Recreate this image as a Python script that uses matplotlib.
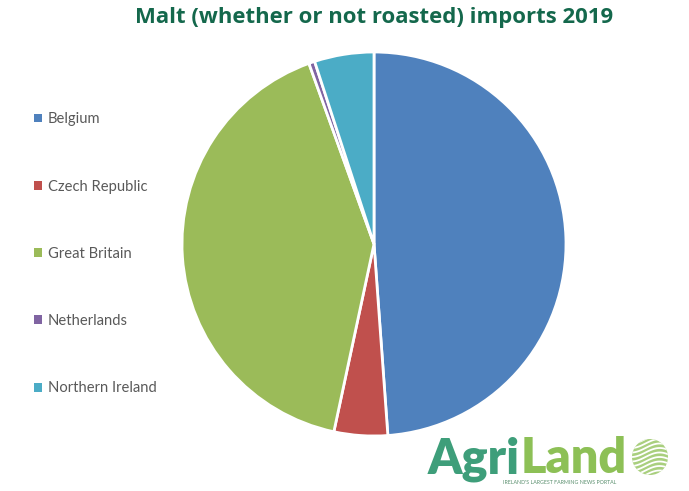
import matplotlib.pyplot as plt
from matplotlib.patches import Circle, Patch
import numpy as np

countries = ["Belgium", "Czech Republic", "Great Britain", "Netherlands", "Northern Ireland"]
shares = [48.8, 4.5, 41.1, 0.5, 5.0]
colors = ["#4F81BD", "#C0504D", "#9BBB59", "#8064A2", "#4BACC6"]
title = "Malt (whether or not roasted) imports 2019"

W, H = 689, 491
fig = plt.figure(figsize=(W / 100, H / 100), dpi=100)
fig.patch.set_facecolor("white")

cx, cy, r = 374, 244, 192
ax = fig.add_axes([(cx - r) / W, (H - cy - r) / H, 2 * r / W, 2 * r / H])
ax.pie(shares, colors=colors, startangle=90, counterclock=False, radius=1,
       wedgeprops=dict(edgecolor="white", linewidth=2))
ax.set_xlim(-1.0, 1.0)
ax.set_ylim(-1.0, 1.0)
ax.set_aspect("equal")
ax.axis("off")

fig.text(374 / W, 1 - 18 / H, title, ha="center", va="center",
         fontsize=15.9, fontweight="bold", color="#14684C", family="Open Sans")

handles = [Patch(facecolor=c, edgecolor="none") for c in colors]
leg = fig.legend(handles, countries, loc="upper left",
                 bbox_to_anchor=(21 / W, 1 - 99 / H), frameon=False,
                 labelspacing=3.62, handlelength=0.55,
                 handleheight=0.55, handletextpad=0.35,
                 prop=dict(family="Lato", size=10.6))
for t in leg.get_texts():
    t.set_color("#595959")

# AgriLand watermark
fig.canvas.draw()
rend = fig.canvas.get_renderer()
t1 = fig.text(428 / W, 1 - 473 / H, "Agri", fontsize=35, fontweight="heavy",
              color="#3E9E7A", family="Lato", va="baseline")
bb = t1.get_window_extent(renderer=rend)
fig.text(bb.x1 / W, 1 - 473 / H, "Land", fontsize=35, fontweight="heavy",
         color="#8DC056", family="Lato", va="baseline")
fig.text(503 / W, 1 - 483 / H, "IRELAND'S LARGEST FARMING NEWS PORTAL", fontsize=3.8,
         color="#5A8F6E", family="Lato", va="center")
lax = fig.add_axes([632 / W, (H - 475) / H, 36 / W, 36 / H])
lax.set_xlim(-1, 1)
lax.set_ylim(-1, 1)
lax.set_aspect("equal")
lax.axis("off")
circ = Circle((0, 0), 1, facecolor="#A9CF7E", edgecolor="none")
lax.add_patch(circ)
xs = np.linspace(-1, 1, 100)
for k in range(-4, 5):
    line, = lax.plot(xs, 0.25 * k + 0.25 * np.sin(xs * 2.0 + 0.5), color="white", lw=1.3)
    line.set_clip_path(circ)

fig.savefig("out.png", dpi=100)
